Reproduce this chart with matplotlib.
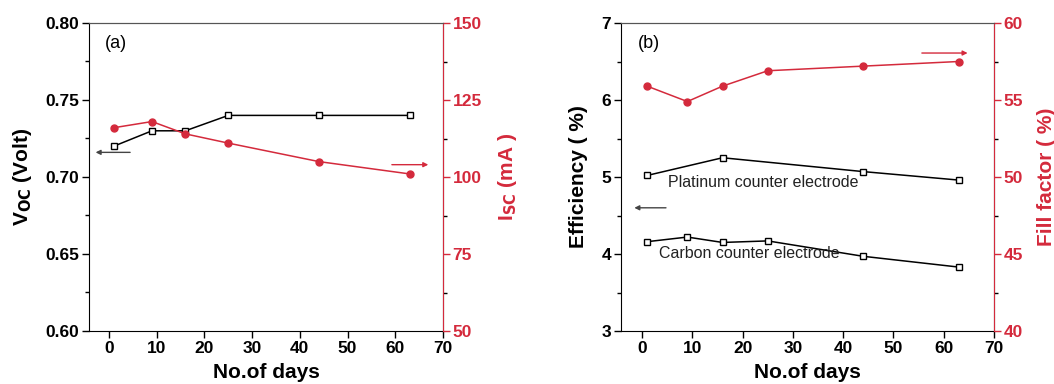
import matplotlib
matplotlib.use("Agg")
import matplotlib.pyplot as plt
from matplotlib.ticker import MultipleLocator, FormatStrFormatter

plt.rcParams['font.family'] = ['Liberation Sans', 'DejaVu Sans']

RED = '#d42a3c'

# Panel (a)
days_a = [1, 9, 16, 25, 44, 63]
voc = [0.72, 0.73, 0.73, 0.74, 0.74, 0.74]
isc = [116, 118, 114, 111, 105, 101]

# Panel (b)
days_pt = [1, 16, 44, 63]
eff_pt = [5.02, 5.25, 5.07, 4.96]
days_c = [1, 9, 16, 25, 44, 63]
eff_c = [4.16, 4.22, 4.15, 4.17, 3.97, 3.83]
days_ff = [1, 9, 16, 25, 44, 63]
ff = [55.9, 54.9, 55.9, 56.9, 57.2, 57.5]

xticks = [0, 10, 20, 30, 40, 50, 60, 70]

TICK_FS = 12.5
LAB_FS = 15

fig = plt.figure(figsize=(10.54, 3.84), dpi=100)
W, H = 1054, 384
axA = fig.add_axes([89 / W, 1 - 331 / H, (443 - 89) / W, (331 - 23) / H])
axB = fig.add_axes([621 / W, 1 - 331 / H, (994 - 621) / W, (331 - 23) / H])


def style(ax, axr, ylim, yt, yminor, ylim_r, yt_r, yminor_r):
    ax.set_xlim(-4.2, 70)
    ax.set_xticks(xticks)
    ax.set_ylim(*ylim)
    ax.set_yticks(yt)
    ax.yaxis.set_minor_locator(MultipleLocator(yminor))
    axr.set_ylim(*ylim_r)
    axr.set_yticks(yt_r)
    axr.yaxis.set_minor_locator(MultipleLocator(yminor_r))
    for a in (ax, axr):
        a.tick_params(direction='out', length=5, width=1, pad=2)
        a.tick_params(which='minor', direction='out', length=3, width=1)
    ax.tick_params(axis='both', labelsize=TICK_FS)
    for lab in ax.get_xticklabels() + ax.get_yticklabels():
        lab.set_fontweight('bold')
    axr.tick_params(axis='y', colors=RED, labelsize=TICK_FS)
    for lab in axr.get_yticklabels():
        lab.set_fontweight('bold')
    axr.spines['right'].set_color(RED)
    axr.spines['top'].set_color('#555555')
    ax.spines['top'].set_color('#555555')
    axr.spines['left'].set_visible(False)
    axr.spines['bottom'].set_visible(False)
    ax.set_xlabel('No.of days', fontsize=LAB_FS, fontweight='bold', labelpad=5)


arrow_k = dict(arrowstyle='-|>', lw=1, mutation_scale=7)

# ---- Panel a
axAr = axA.twinx()
axA.plot(days_a, voc, color='black', lw=1.1, marker='s', ms=4.5,
         mfc='white', mec='black', mew=1, zorder=3)
axAr.plot(days_a, isc, color=RED, lw=1.1, marker='o', ms=5, mfc=RED,
          mec=RED, zorder=3)
style(axA, axAr, (0.60, 0.80), [0.60, 0.65, 0.70, 0.75, 0.80], 0.025,
      (50, 150), [50, 75, 100, 125, 150], 12.5)
axA.yaxis.set_major_formatter(FormatStrFormatter('%.2f'))
for lab in axA.get_yticklabels():
    lab.set_fontweight('bold')
axA.set_ylabel('V$_\\mathbf{OC}$ (Volt)', fontsize=LAB_FS, fontweight='bold',
               labelpad=8)
axAr.set_ylabel('I$_\\mathbf{SC}$ (mA )', fontsize=LAB_FS, fontweight='bold',
                color=RED, labelpad=10)
axA.text(-0.8, 0.787, '(a)', fontsize=13, va='center', ha='left')
axA.annotate('', xy=(-3.4, 0.716), xytext=(5, 0.716),
             arrowprops=dict(color='#444444', **arrow_k))
axAr.annotate('', xy=(67.5, 104), xytext=(58.7, 104),
              arrowprops=dict(color=RED, **arrow_k))

# ---- Panel b
axBr = axB.twinx()
axB.plot(days_pt, eff_pt, color='black', lw=1.1, marker='s', ms=4.5,
         mfc='white', mec='black', mew=1, zorder=3)
axB.plot(days_c, eff_c, color='black', lw=1.1, marker='s', ms=4.5,
         mfc='white', mec='black', mew=1, zorder=3)
axBr.plot(days_ff, ff, color=RED, lw=1.1, marker='o', ms=5, mfc=RED,
          mec=RED, zorder=3)
style(axB, axBr, (3, 7), [3, 4, 5, 6, 7], 0.5,
      (40, 60), [40, 45, 50, 55, 60], 2.5)
axB.set_ylabel('Efficiency ( %)', fontsize=LAB_FS, fontweight='bold',
               labelpad=10)
axBr.set_ylabel('Fill factor ( %)', fontsize=LAB_FS, fontweight='bold',
                color=RED, labelpad=10)
axB.text(-0.9, 6.74, '(b)', fontsize=13, va='center', ha='left')
axB.text(5.1, 4.93, 'Platinum counter electrode', fontsize=11.5,
         va='center', ha='left', color='#222222')
axB.text(3.3, 4.0, 'Carbon counter electrode', fontsize=11.5,
         va='center', ha='left', color='#222222')
axB.annotate('', xy=(-2.1, 4.6), xytext=(5.3, 4.6),
             arrowprops=dict(color='#444444', **arrow_k))
axBr.annotate('', xy=(65.3, 58.05), xytext=(55.1, 58.05),
              arrowprops=dict(color=RED, **arrow_k))

fig.savefig('out.png', dpi=100)
